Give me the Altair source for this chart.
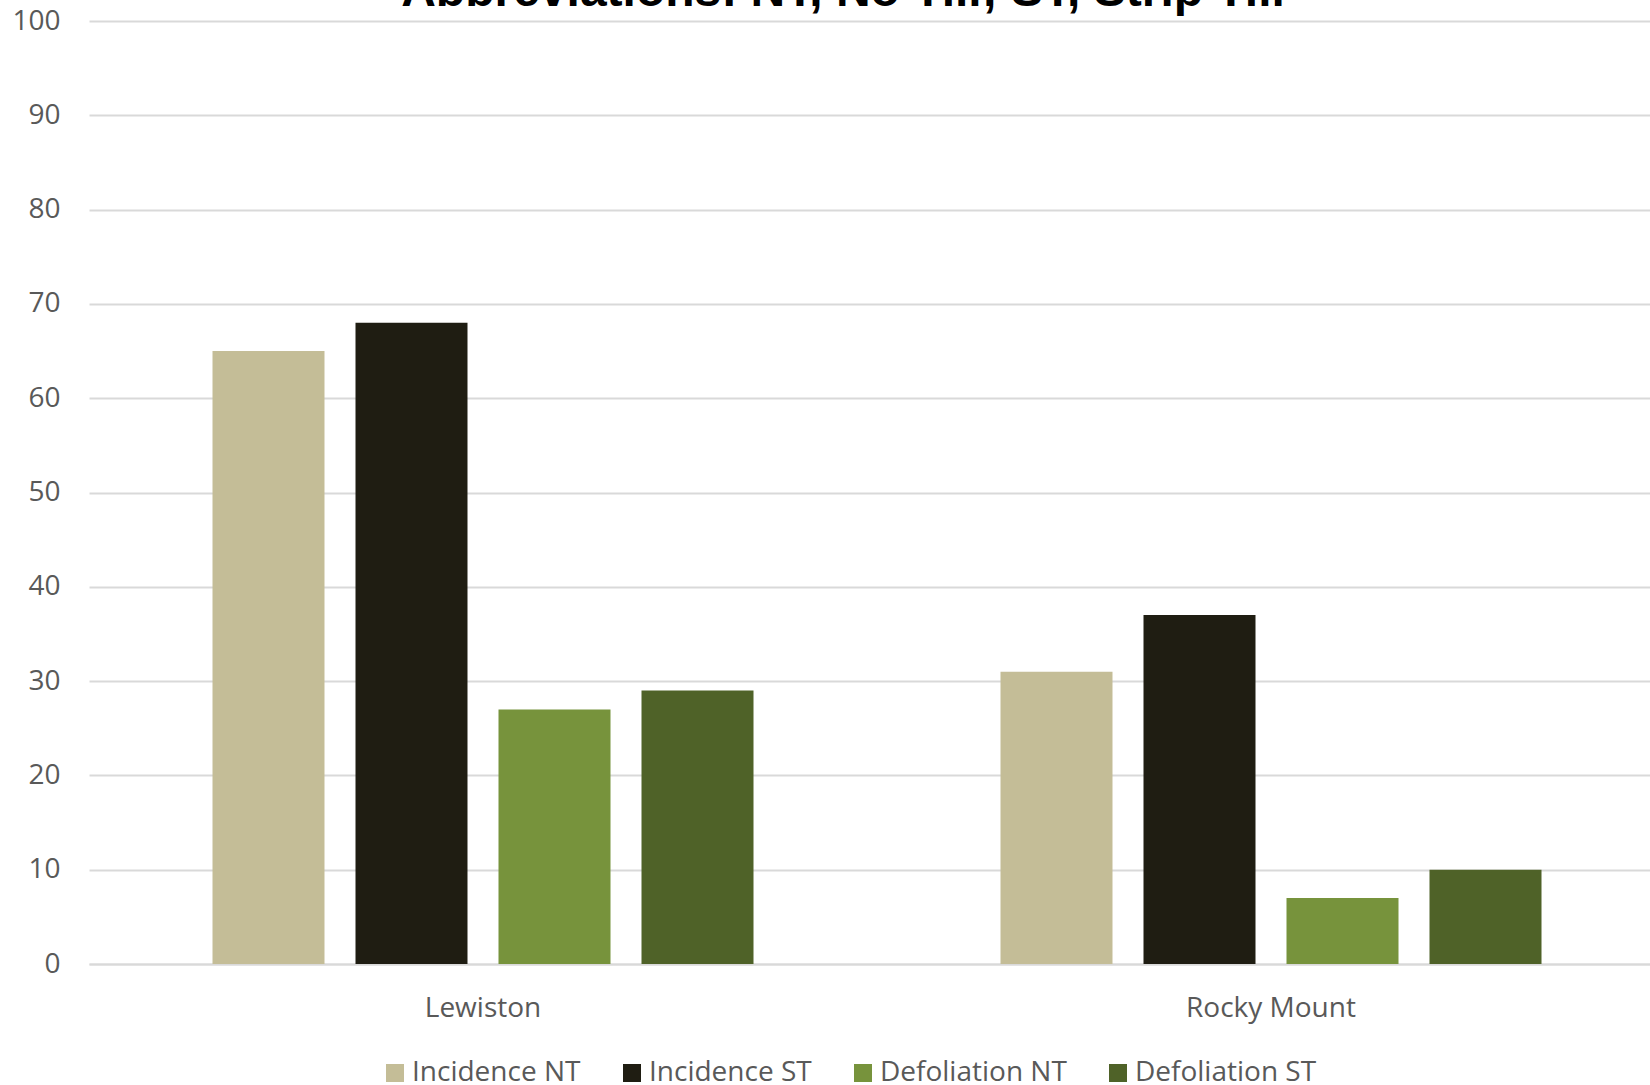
import altair as alt
import pandas as pd

locations = ["Lewiston", "Rocky Mount"]
series = ["Incidence NT", "Incidence ST", "Defoliation NT", "Defoliation ST"]
colors = ["#c4bd97", "#1f1d12", "#77933c", "#4f6228"]
values = {
    "Lewiston": [65, 68, 27, 29],
    "Rocky Mount": [31, 37, 7, 10],
}
y_ticks = [0, 10, 20, 30, 40, 50, 60, 70, 80, 90, 100]
title_text = "Abbreviations: NT, No Till; ST, Strip Till"

rows = []
for loc in locations:
    for s, v in zip(series, values[loc]):
        rows.append({"Location": loc, "Series": s, "Value": v})
df = pd.DataFrame(rows)

FONT = "Open Sans"
GREY = "#595959"

bars = alt.Chart(df).mark_bar().encode(
    x=alt.X("Location:N", sort=locations,
            scale=alt.Scale(range=[0, 1576], paddingInner=0, paddingOuter=0),
            axis=alt.Axis(title=None, labelAngle=0, ticks=False, tickSize=0, domain=True,
                          domainColor="#d9d9d9", domainWidth=2, labelFont=FONT,
                          labelFontSize=28, labelColor=GREY, labelBaseline="alphabetic",
                          labelPadding=52, grid=False)),
    xOffset=alt.XOffset("Series:N", sort=series,
                        scale=alt.Scale(paddingInner=0.2168, paddingOuter=0.8636)),
    y=alt.Y("Value:Q", scale=alt.Scale(domain=[0, 100], nice=False),
            axis=alt.Axis(title=None, values=y_ticks, ticks=False, tickSize=0, domain=False,
                          grid=True, gridColor="#d9d9d9", gridWidth=2,
                          labelFont=FONT, labelFontSize=28, labelColor=GREY,
                          labelPadding=29)),
    color=alt.Color("Series:N", sort=series,
                    scale=alt.Scale(domain=series, range=colors),
                    legend=alt.Legend(title=None, orient="none", direction="horizontal",
                                      legendX=292, legendY=1038,
                                      symbolType="square", symbolSize=324,
                                      symbolStrokeWidth=0, labelFont=FONT,
                                      labelFontSize=28, labelColor=GREY, labelLimit=0,
                                      labelOffset=3, columnPadding=37)),
)

title = alt.Chart(pd.DataFrame({"t": [title_text]})).mark_text(
    font="Liberation Sans", fontSize=48, fontWeight="bold", color="#000000",
    align="center", baseline="alphabetic",
).encode(text="t:N", x=alt.value(754), y=alt.value(-15))

chart = alt.layer(bars, title).properties(
    width=1561,
    height=943,
    autosize=alt.AutoSizeParams(type="none"),
    padding={"left": 89, "top": 21, "right": 0, "bottom": 121},
).configure(background="white").configure_view(stroke=None)

chart.save("out.html", embed_options={"renderer": "svg", "actions": False})
